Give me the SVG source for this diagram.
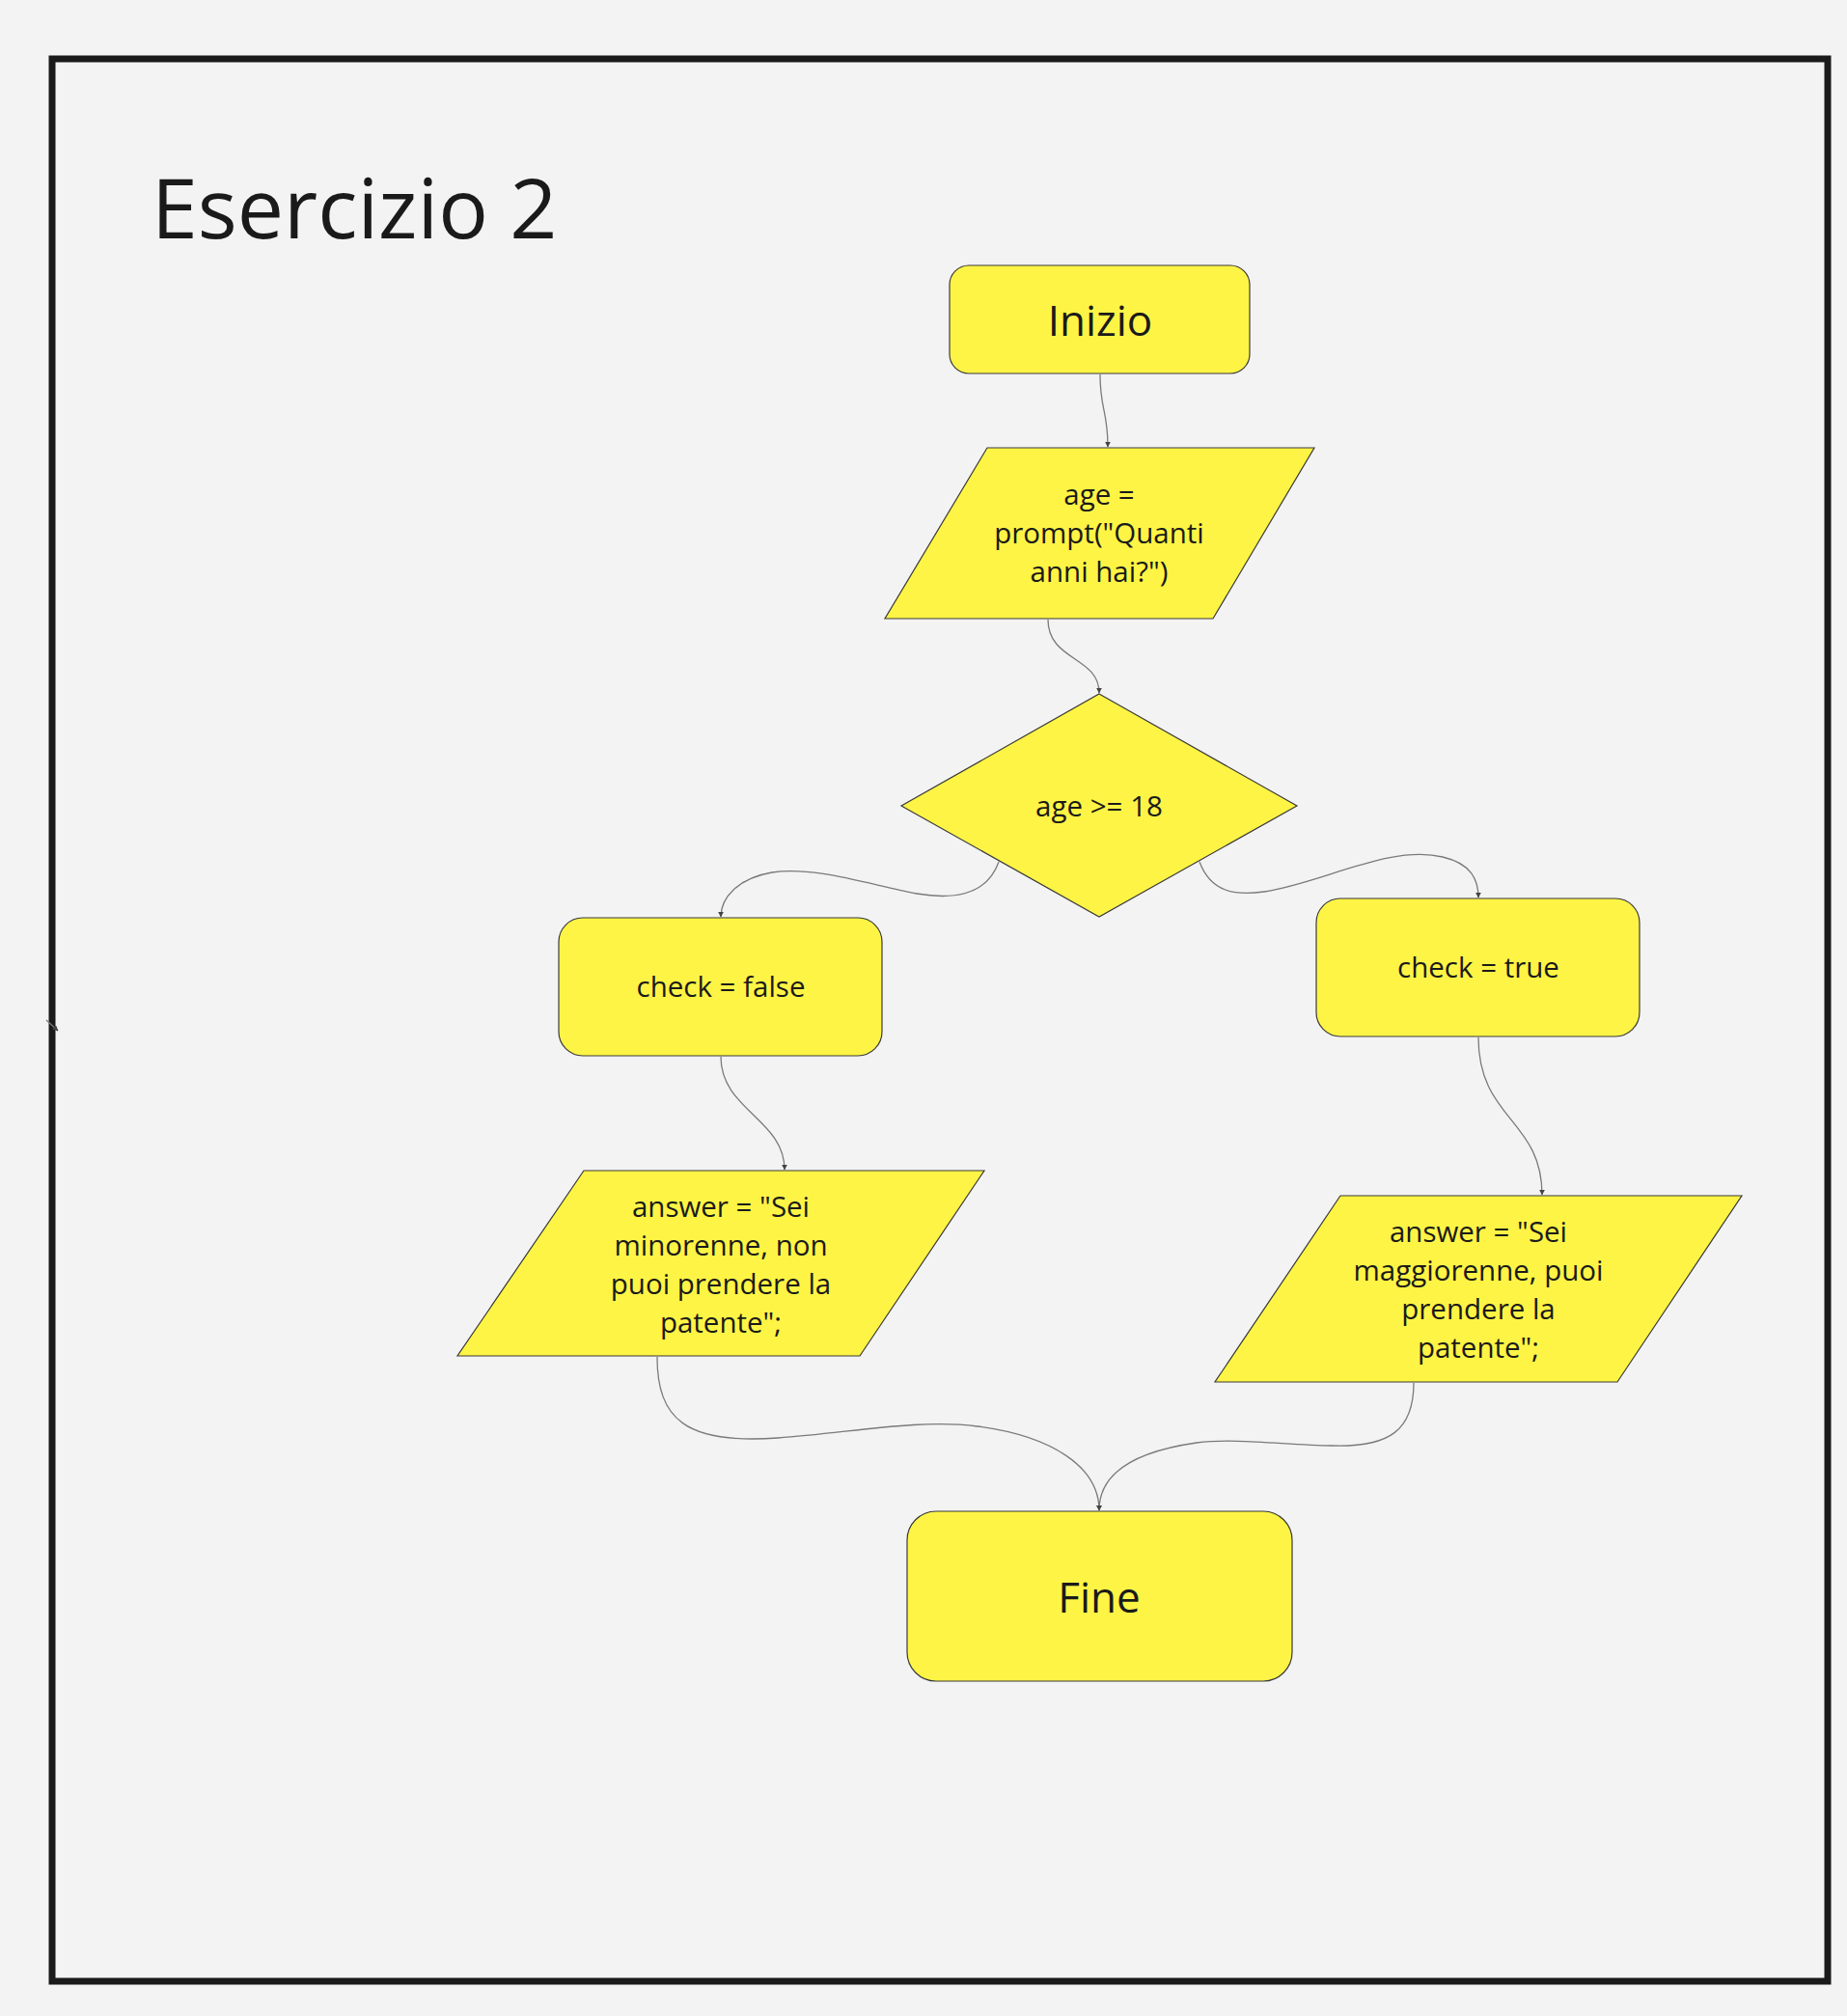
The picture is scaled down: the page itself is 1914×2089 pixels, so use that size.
<svg xmlns="http://www.w3.org/2000/svg" width="1914" height="2089" viewBox="0 0 1914 2089">
<style>
.node{fill:#fef445;stroke:#3a3a3a;stroke-width:1.2}
.t{font-family:"Open Sans","Liberation Sans",sans-serif;fill:#1a1a1a;text-anchor:middle}
.s{font-size:29.5px}
.b{font-size:44px}
.c{fill:none;stroke:#7a7a7a;stroke-width:1.3;marker-end:url(#ah)}
</style>
<defs>
<marker id="ah" viewBox="0 0 10 10" refX="9" refY="5" markerWidth="6" markerHeight="6" markerUnits="userSpaceOnUse" orient="auto">
<path d="M0,0 L10,5 L0,10 z" fill="#444"/>
</marker>
</defs>
<rect width="1914" height="2089" fill="#f3f3f3"/>
<rect id="frame" x="54" y="61" width="1840" height="1992" fill="none" stroke="#1a1a1a" stroke-width="7"/>
<text id="title" x="157" y="247" font-family="Open Sans, Liberation Sans, sans-serif" font-size="86" fill="#1a1a1a">Esercizio 2</text>

<g id="connectors">
<path class="c" d="M1140,388 C1140,425 1148,425 1148,463"/>
<path class="c" d="M1086,642 C1086,685 1139,680 1139,718"/>
<path class="c" d="M1035,893 C1022,930 985,932 950,926 C905,918 845,897 800,904 C765,910 747,930 747,950"/>
<path class="c" d="M1243,893 C1255,925 1280,928 1310,924 C1370,915 1440,875 1495,888 C1525,895 1532,912 1532,930"/>
<path class="c" d="M747,1095 C747,1150 813,1160 813,1212"/>
<path class="c" d="M1532,1075 C1532,1160 1598,1160 1598,1238"/>
<path class="c" d="M681,1406 C681,1470 710,1497 806,1490 C880,1485 950,1470 1013,1478 C1090,1488 1139,1520 1139,1565"/>
<path class="c" d="M1465,1433 C1465,1482 1440,1500 1380,1498 C1330,1497 1280,1490 1240,1495 C1170,1505 1139,1530 1139,1565"/>
<path class="c" d="M48,1057 L60,1068"/>
</g>

<g id="inizio">
<rect class="node" x="984" y="275" width="311" height="112" rx="20"/>
<text class="t b" x="1140" y="348">Inizio</text>
</g>

<g id="input-age">
<polygon class="node" points="1023,464 1362,464 1257,641 917,641"/>
<text class="t s" x="1139" y="523">age =</text>
<text class="t s" x="1139" y="563">prompt("Quanti</text>
<text class="t s" x="1139" y="603">anni hai?")</text>
</g>

<g id="decision">
<polygon class="node" points="1139,719 1344,835 1139,950 934,835"/>
<text class="t s" x="1139" y="846">age &gt;= 18</text>
</g>

<g id="check-false">
<rect class="node" x="579" y="951" width="335" height="143" rx="25"/>
<text class="t s" x="747" y="1033">check = false</text>
</g>

<g id="check-true">
<rect class="node" x="1364" y="931" width="335" height="143" rx="25"/>
<text class="t s" x="1532" y="1013">check = true</text>
</g>

<g id="answer-minorenne">
<polygon class="node" points="605,1213 1020,1213 891,1405 474,1405"/>
<text class="t s" x="747" y="1261">answer = "Sei</text>
<text class="t s" x="747" y="1301">minorenne, non</text>
<text class="t s" x="747" y="1341">puoi prendere la</text>
<text class="t s" x="747" y="1381">patente";</text>
</g>

<g id="answer-maggiorenne">
<polygon class="node" points="1389,1239 1805,1239 1676,1432 1259,1432"/>
<text class="t s" x="1532" y="1287">answer = "Sei</text>
<text class="t s" x="1532" y="1327">maggiorenne, puoi</text>
<text class="t s" x="1532" y="1367">prendere la</text>
<text class="t s" x="1532" y="1407">patente";</text>
</g>

<g id="fine">
<rect class="node" x="940" y="1566" width="399" height="176" rx="30"/>
<text class="t b" x="1139" y="1671">Fine</text>
</g>
</svg>
